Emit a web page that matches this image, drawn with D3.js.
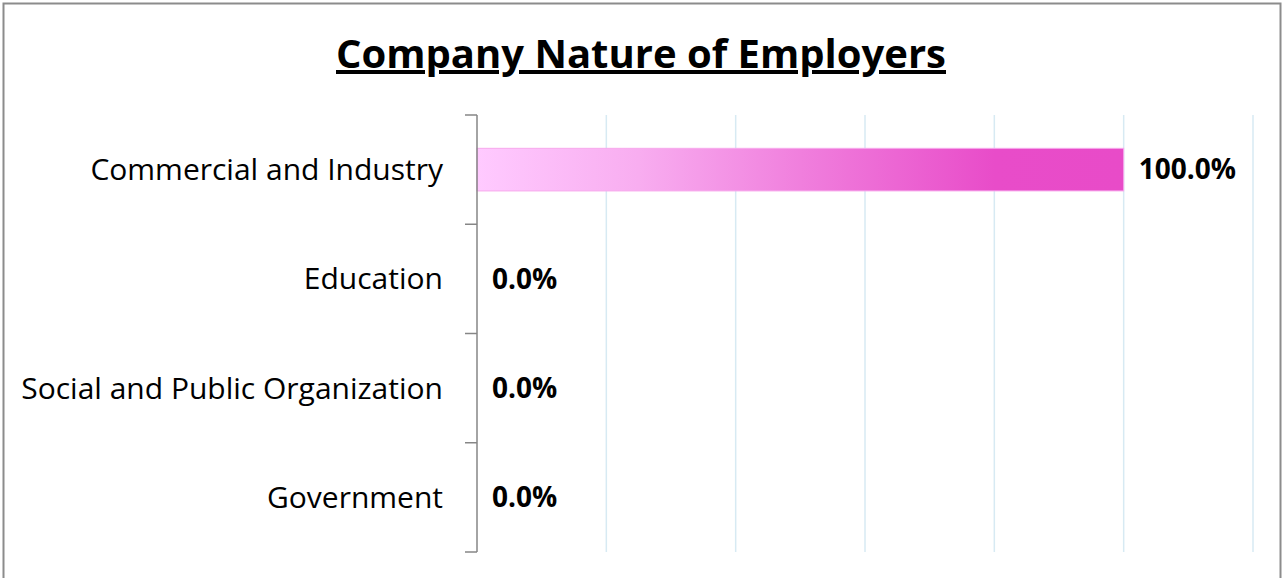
<!DOCTYPE html>
<html>
<head>
<meta charset="utf-8">
<script src="https://cdn.jsdelivr.net/npm/d3@7"></script>
<style>
  body { margin: 0; background: #fff; }
  text { font-family: "Open Sans", "Noto Sans", sans-serif; }
</style>
</head>
<body>
<script>
// chart data
var categories = ["Commercial and Industry", "Education", "Social and Public Organization", "Government"];
var values = [1.0, 0.0, 0.0, 0.0];
var tickValues = [0, 0.2, 0.4, 0.6, 0.8, 1.0, 1.2];
var title = "Company Nature of Employers";

var width = 1282, height = 578;
var margin = { top: 115, right: 29, bottom: 26, left: 477 };

var svg = d3.select("body").append("svg")
    .attr("width", width)
    .attr("height", height);

// outer frame
svg.append("rect")
    .attr("x", 3.5).attr("y", 3.5)
    .attr("width", 1277).attr("height", 590)
    .attr("fill", "#fff")
    .attr("stroke", "#8c8c8c")
    .attr("stroke-width", 2);

var x = d3.scaleLinear()
    .domain([0, 1.2])
    .range([margin.left, width - margin.right]);

var y = d3.scaleBand()
    .domain(categories)
    .range([margin.top, height - margin.bottom])
    .paddingInner(0.61)
    .paddingOuter(0.305);

// gradient for the bar
var defs = svg.append("defs");
var grad = defs.append("linearGradient")
    .attr("id", "barGrad")
    .attr("x1", "0%").attr("x2", "100%")
    .attr("y1", "0%").attr("y2", "0%");
grad.append("stop").attr("offset", "0%").attr("stop-color", "#ffcaff");
grad.append("stop").attr("offset", "25%").attr("stop-color", "#f8adf0");
grad.append("stop").attr("offset", "50%").attr("stop-color", "#f07fdd");
grad.append("stop").attr("offset", "80%").attr("stop-color", "#e84cc9");
grad.append("stop").attr("offset", "100%").attr("stop-color", "#e84bc8");

// vertical gridlines
svg.append("g")
    .selectAll("line")
    .data(tickValues.slice(1))
    .enter().append("line")
    .attr("x1", function(d) { return x(d); })
    .attr("x2", function(d) { return x(d); })
    .attr("y1", margin.top)
    .attr("y2", height - margin.bottom)
    .attr("stroke", "#d7eaf3")
    .attr("stroke-width", 1.5);

// bars
svg.append("g")
    .selectAll("rect")
    .data(values)
    .enter().append("rect")
    .attr("x", x(0))
    .attr("y", function(d, i) { return y(categories[i]); })
    .attr("width", function(d) { return x(d) - x(0); })
    .attr("height", y.bandwidth())
    .attr("fill", "url(#barGrad)")
    .attr("stroke", function(d) { return d > 0 ? "#f7a8ec" : "none"; })
    .attr("stroke-width", 1);

// category axis with ticks between bands
var bounds = d3.range(categories.length + 1).map(function(i) { return margin.top + i * (height - margin.top - margin.bottom) / categories.length; });
var axisG = svg.append("g");
axisG.append("line")
    .attr("x1", x(0)).attr("x2", x(0))
    .attr("y1", margin.top).attr("y2", height - margin.bottom)
    .attr("stroke", "#868686").attr("stroke-width", 1.5);
axisG.selectAll("line.tick")
    .data(bounds)
    .enter().append("line")
    .attr("class", "tick")
    .attr("x1", x(0) - 12).attr("x2", x(0))
    .attr("y1", function(d) { return d; })
    .attr("y2", function(d) { return d; })
    .attr("stroke", "#868686").attr("stroke-width", 1.5);

// category labels
svg.append("g")
    .selectAll("text")
    .data(categories)
    .enter().append("text")
    .attr("x", x(0) - 34)
    .attr("y", function(d) { return y(d) + y.bandwidth() / 2; })
    .attr("dy", "0.35em")
    .attr("text-anchor", "end")
    .attr("font-size", 30)
    .attr("fill", "#000")
    .text(function(d) { return d; });

// value labels
svg.append("g")
    .selectAll("text")
    .data(values)
    .enter().append("text")
    .attr("x", function(d) { return x(d) + 15; })
    .attr("y", function(d, i) { return y(categories[i]) + y.bandwidth() / 2; })
    .attr("dy", "0.35em")
    .attr("font-size", 28)
    .attr("font-weight", "bold")
    .attr("fill", "#000")
    .text(function(d) { return (d * 100).toFixed(1) + "%"; });

// title
svg.append("text")
    .attr("x", 641)
    .attr("y", 68)
    .attr("text-anchor", "middle")
    .attr("font-size", 40)
    .attr("font-weight", "bold")
    .attr("text-decoration", "underline")
    .attr("fill", "#000")
    .text(title);
</script>
</body>
</html>
